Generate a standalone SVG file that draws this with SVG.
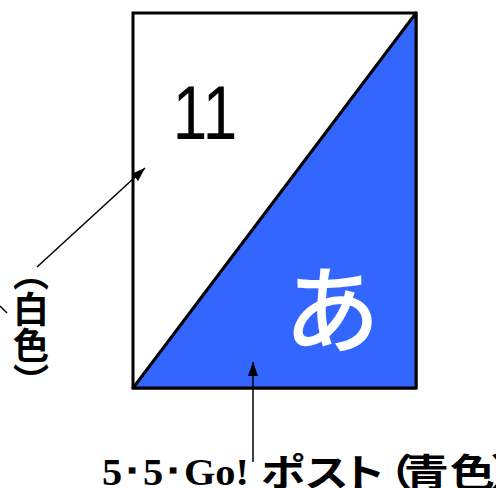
<svg xmlns="http://www.w3.org/2000/svg" width="496" height="488" viewBox="0 0 496 488">
<defs>
<marker id="ah" viewBox="0 0 14 10" refX="14" refY="5" markerWidth="14" markerHeight="10" markerUnits="userSpaceOnUse" orient="auto">
<path d="M0,0 L14,5 L0,10 Z" fill="#000"/>
</marker>
</defs>
<style>
.conn{stroke:#000;stroke-width:1.5;fill:none}
.jp{font-family:"Noto Sans CJK JP","Noto Sans",sans-serif;font-weight:bold;fill:#000}
</style>
<rect width="496" height="488" fill="#fff"/>
<g id="card">
<rect x="133" y="13" width="283" height="375" fill="#fff" stroke="#000" stroke-width="3"/>
<polygon points="416,13 416,388 133,388" fill="#3366FF" stroke="#000" stroke-width="3" stroke-linejoin="round"/>
<text transform="translate(205,139) scale(1,1.22)" font-family="Liberation Sans, Arial, sans-serif" font-size="62" text-anchor="middle" fill="#000">11</text>
<text x="332" y="345" font-family="Noto Sans CJK JP, sans-serif" font-size="96" font-weight="500" text-anchor="middle" fill="#fff">あ</text>
</g>
<g id="label-white">
<text class="jp" x="31" y="255" font-size="36" writing-mode="vertical-rl">（白色）</text>
</g>
<g id="label-blue">
<text x="102" y="485" font-family="Liberation Serif, serif" font-size="37" font-weight="bold" fill="#000" textLength="147" lengthAdjust="spacingAndGlyphs">5･5･Go!</text>
<text class="jp" transform="translate(0,486) scale(1.18,1)" x="221.2 257.6 289 311.9 342.4 381.4 415.3" y="0" font-size="38">ポスト（青色）</text>
</g>
<g id="connectors">
<line class="conn" x1="37" y1="267" x2="145" y2="168" marker-end="url(#ah)"/>
<line class="conn" x1="253" y1="462" x2="253" y2="362" marker-end="url(#ah)"/>
<line class="conn" x1="0" y1="306" x2="7" y2="313"/>
</g>
</svg>
